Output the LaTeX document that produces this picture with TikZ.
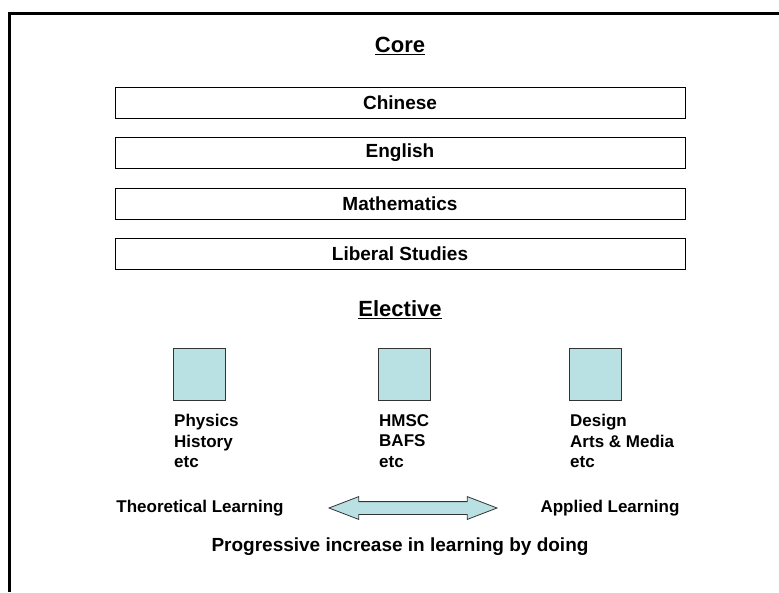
\documentclass[tikz,border=0pt]{standalone}
\usepackage{fontspec}
\setmainfont{Liberation Sans}
\usetikzlibrary{shapes.arrows}
\definecolor{elecfill}{RGB}{185,224,226}
\newcommand{\fsz}[2]{\fontsize{#1}{#2}\selectfont\bfseries}
\tikzset{
  corebox/.style={draw, line width=1pt, minimum width=570pt, minimum height=31pt, inner sep=0pt, font=\fsz{19}{23}},
  elecbox/.style={draw=black!80, line width=1pt, fill=elecfill, minimum size=52pt, inner sep=0pt},
  elecnote/.style={anchor=north west, align=left, inner sep=0pt, font=\fsz{17}{20.5}}
}

\begin{document}
\begin{tikzpicture}[x=1pt,y=-1pt]
\useasboundingbox (0,0) rectangle (779,592);
\draw[line width=2.5pt] (9.5,592) -- (9.5,13.5) -- (779,13.5);
\node[font=\fsz{22}{26}] (T0) at (400,46) {\underline{Core}};
\node[corebox] (C0) at (400,103) {Chinese};
\node[corebox] (C1) at (400,153) {English};
\node[corebox] (C2) at (400,204) {Mathematics};
\node[corebox] (C3) at (400,254) {Liberal Studies};
\node[font=\fsz{22}{26}] (T1) at (400,310) {\underline{Elective}};
\node[elecbox] (E0) at (199,374) {};
\node[elecbox] (E1) at (404,374) {};
\node[elecbox] (E2) at (595,374) {};
\node[elecnote] (L0) at (174,414) {Physics\\History\\etc};
\node[elecnote] (L1) at (379,414) {HMSC\\BAFS\\etc};
\node[elecnote] (L2) at (570,414) {Design\\Arts \& Media\\etc};
\node[font=\fsz{17}{20}] (A0) at (200,508) {Theoretical Learning};
\node[double arrow, draw=black!80, line width=0.8pt, fill=elecfill, minimum height=168pt,
  inner xsep=0pt, inner ysep=6pt, double arrow head extend=5pt, double arrow tip angle=42] (AR) at (413,508) {};
\node[font=\fsz{17}{20}] (A1) at (610,508) {Applied Learning};
\node[font=\fsz{19}{23}] (P0) at (400,547) {Progressive increase in learning by doing};
\end{tikzpicture}
\end{document}
